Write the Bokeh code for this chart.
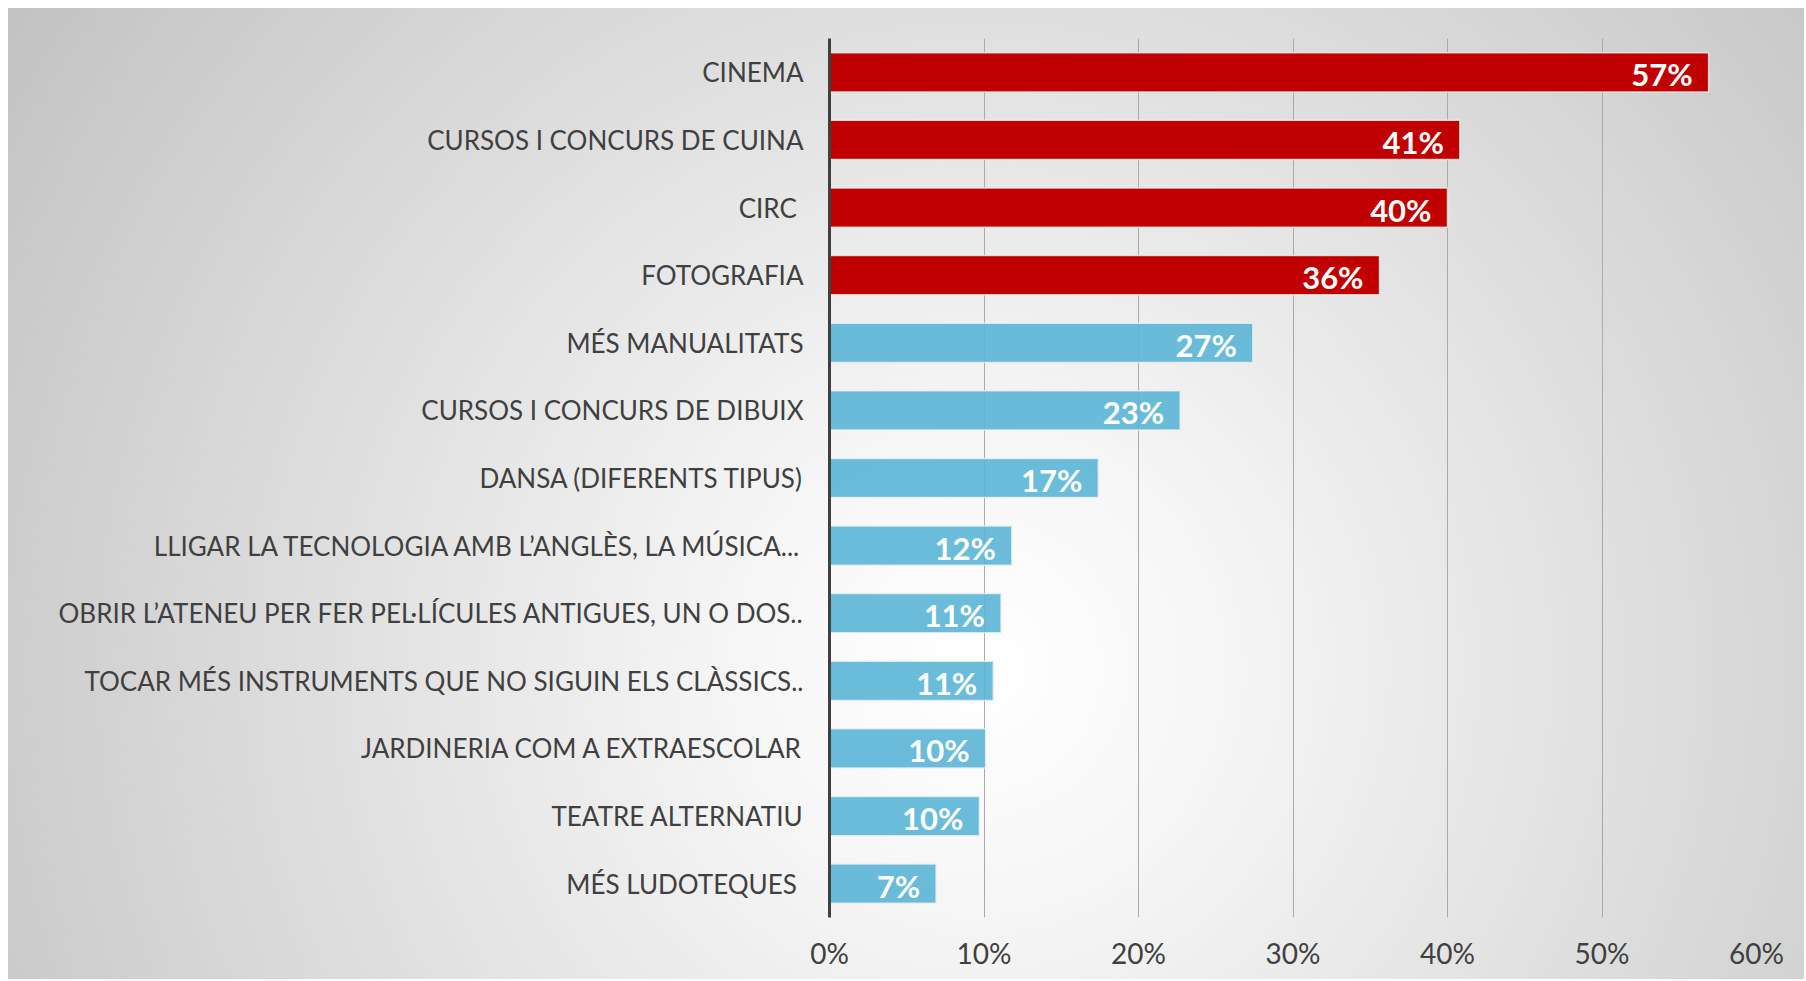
from bokeh.plotting import figure
from bokeh.models import FactorRange, Range1d, NumeralTickFormatter, ColumnDataSource, FixedTicker
from bokeh.core.properties import value
from bokeh.embed import file_html
from bokeh.resources import INLINE

categories = [
    "CINEMA",
    "CURSOS I CONCURS DE CUINA",
    "CIRC ",
    "FOTOGRAFIA",
    "MÉS MANUALITATS",
    "CURSOS I CONCURS DE DIBUIX",
    "DANSA (DIFERENTS TIPUS)",
    "LLIGAR LA TECNOLOGIA AMB L’ANGLÈS, LA MÚSICA...",
    "OBRIR L’ATENEU PER FER PEL·LÍCULES ANTIGUES, UN O DOS..",
    "TOCAR MÉS INSTRUMENTS QUE NO SIGUIN ELS CLÀSSICS..",
    "JARDINERIA COM A EXTRAESCOLAR",
    "TEATRE ALTERNATIU",
    "MÉS LUDOTEQUES ",
]
values = [0.569, 0.408, 0.400, 0.356, 0.274, 0.227, 0.174, 0.118, 0.111, 0.106, 0.101, 0.097, 0.069]
value_labels = ["57%", "41%", "40%", "36%", "27%", "23%", "17%", "12%", "11%", "11%", "10%", "10%", "7%"]
groups = ["top", "top", "top", "top"] + ["rest"] * 9
x_ticks = [0.0, 0.1, 0.2, 0.3, 0.4, 0.5, 0.6]

RED = "#C00000"
BLUE = "#5AB5D6"
colors = [RED if g == "top" else BLUE for g in groups]
alphas = [1.0 if g == "top" else 0.9 for g in groups]

src = ColumnDataSource(dict(cat=categories, val=values, lab=value_labels, color=colors, alpha=alphas))

p = figure(
    width=1796, height=971,
    y_range=FactorRange(factors=list(reversed(categories)), range_padding=0),
    x_range=Range1d(0, 0.6),
    output_backend="svg", toolbar_location=None,
    min_border_left=821, min_border_right=48, min_border_top=30, min_border_bottom=62,
)
p.margin = (8, 0, 0, 8)
p.styles = {"background": "radial-gradient(circle farthest-corner at 54% 68%, #ffffff 0%, #f6f6f6 20%, #c2c2c2 100%)"}
p.background_fill_color = None
p.border_fill_color = None
p.outline_line_color = None

p.hbar(y="cat", right="val", left=0, height=0.58, source=src,
       fill_color="color", fill_alpha="alpha", line_color="#f0f0f0", line_alpha=0.8, line_width=1.5)

p.text(x="val", y="cat", text="lab", source=src, x_offset=-16, y_offset=2,
       text_align="right", text_baseline="middle", text_color="white",
       text_font=value("Lato"), text_font_style="bold", text_font_size="31px")

# axes
p.xaxis.ticker = FixedTicker(ticks=x_ticks)
p.xaxis.formatter = NumeralTickFormatter(format="0%")
p.xaxis.axis_line_color = None
p.xaxis.major_tick_line_color = None
p.xaxis.minor_tick_line_color = None
p.xaxis.major_label_text_font = "Lato"
p.xaxis.major_label_text_font_size = "28px"
p.xaxis.major_label_text_color = "#404040"
p.xaxis.major_label_standoff = 12

p.yaxis.axis_line_color = "#404040"
p.yaxis.axis_line_width = 3
p.yaxis.major_tick_line_color = None
p.yaxis.minor_tick_line_color = None
p.yaxis.major_label_text_font = "Lato"
p.yaxis.major_label_text_font_size = "26px"
p.yaxis.major_label_text_color = "#404040"
p.yaxis.major_label_standoff = 20

p.xgrid.grid_line_color = "#aaaaaa"
p.xgrid.grid_line_width = 1
p.ygrid.grid_line_color = None

open("out.html", "w").write(file_html(p, INLINE))
